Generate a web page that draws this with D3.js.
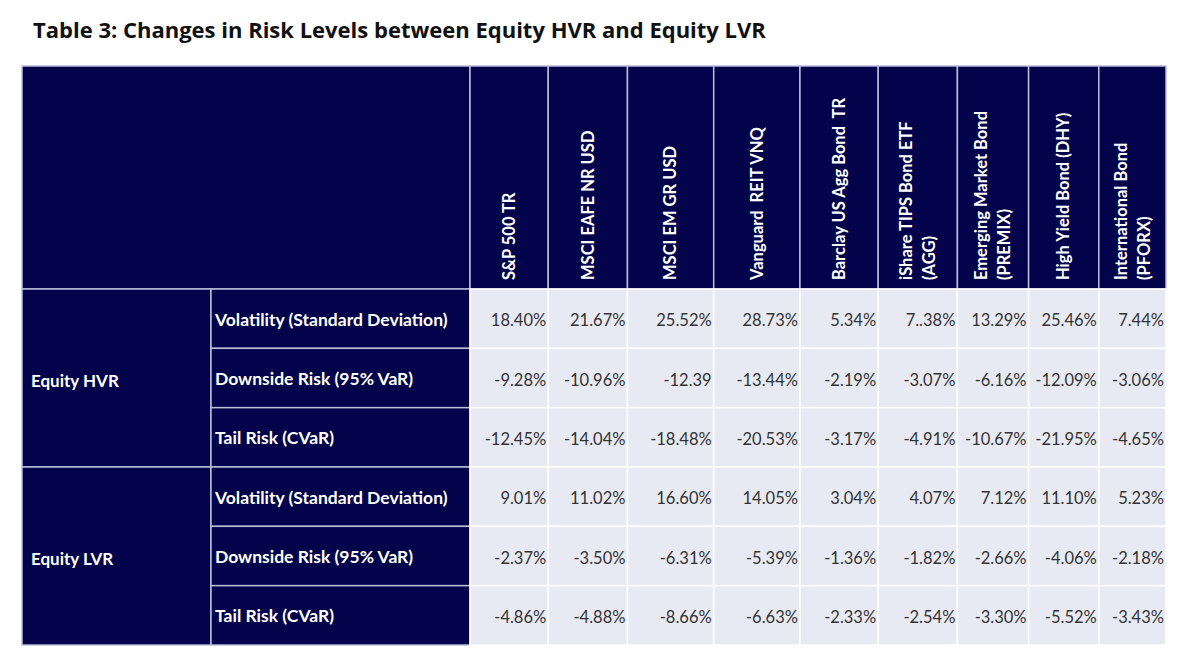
<!DOCTYPE html>
<html>
<head>
<meta charset="utf-8">
<script src="https://cdn.jsdelivr.net/npm/d3@7/dist/d3.min.js"></script>
<style>
  html, body { margin: 0; padding: 0; background: #ffffff; }
  svg { display: block; }
</style>
</head>
<body>
<svg id="chart" width="1200" height="667"></svg>
<script>
// ---------- DATA ----------
const title = "Table 3: Changes in Risk Levels between Equity HVR and Equity LVR";
const assets = [
  ["S&P 500 TR"],
  ["MSCI EAFE NR USD"],
  ["MSCI EM GR USD"],
  ["Vanguard  REIT VNQ"],
  ["Barclay US Agg Bond  TR"],
  ["iShare TIPS Bond ETF", "(AGG)"],
  ["Emerging Market Bond", "(PREMIX)"],
  ["High Yield Bond (DHY)"],
  ["International Bond", "(PFORX)"]
];
const groups = ["Equity HVR", "Equity LVR"];
const metrics = ["Volatility (Standard Deviation)", "Downside Risk (95% VaR)", "Tail Risk (CVaR)"];
const hvrVolatility = ["18.40%", "21.67%", "25.52%", "28.73%", "5.34%", "7..38%", "13.29%", "25.46%", "7.44%"];
const hvrDownside   = ["-9.28%", "-10.96%", "-12.39", "-13.44%", "-2.19%", "-3.07%", "-6.16%", "-12.09%", "-3.06%"];
const hvrTail       = ["-12.45%", "-14.04%", "-18.48%", "-20.53%", "-3.17%", "-4.91%", "-10.67%", "-21.95%", "-4.65%"];
const lvrVolatility = ["9.01%", "11.02%", "16.60%", "14.05%", "3.04%", "4.07%", "7.12%", "11.10%", "5.23%"];
const lvrDownside   = ["-2.37%", "-3.50%", "-6.31%", "-5.39%", "-1.36%", "-1.82%", "-2.66%", "-4.06%", "-2.18%"];
const lvrTail       = ["-4.86%", "-4.88%", "-8.66%", "-6.63%", "-2.33%", "-2.54%", "-3.30%", "-5.52%", "-3.43%"];

// ---------- LAYOUT ----------
const colWeights = [78, 79, 86, 86, 78, 79, 71, 70, 67]; // relative column widths
const tableLeft = 22, groupRight = 211, metricRight = 470, tableRight = 1166;
const headerTop = 66, bodyTop = 289, tableBottom = 645;
const NAVY = "#02034a", HEADER_LINE = "#b9bdd8", CELL = "#e8eaf3", GRID = "#ffffff";
const FONT = "Lato, 'Open Sans', 'Noto Sans', sans-serif";

const svg = d3.select("#chart");
svg.append("rect").attr("width", 1200).attr("height", 667).attr("fill", "#fff");

// title
svg.append("text")
  .attr("x", 33).attr("y", 38)
  .attr("font-family", "'Open Sans', Lato, sans-serif").attr("font-weight", 700).attr("font-size", 22)
  .attr("fill", "#111").text(title);

// column scale (cumulative weights -> pixels)
const assetKeys = assets.map(a => a.join(" "));
const cum = [0, ...d3.cumsum(colWeights)];
const xw = d3.scaleLinear().domain([0, cum[cum.length - 1]]).range([metricRight, tableRight]);
const xLeft = d3.scaleOrdinal().domain(assetKeys).range(cum.slice(0, -1).map(xw));
const xRight = d3.scaleOrdinal().domain(assetKeys).range(cum.slice(1).map(xw));

// rows
const rows = [];
groups.forEach((g) => metrics.forEach((m) => rows.push({ g, m, key: g + "|" + m })));
const y = d3.scaleBand().domain(rows.map(r => r.key)).range([bodyTop, tableBottom]);
const rowValues = [hvrVolatility, hvrDownside, hvrTail, lvrVolatility, lvrDownside, lvrTail];

// header band
svg.append("rect").attr("x", tableLeft).attr("y", headerTop)
  .attr("width", metricRight - tableLeft).attr("height", bodyTop - headerTop)
  .attr("fill", NAVY).attr("stroke", HEADER_LINE).attr("stroke-width", 1.5);

const hdr = svg.append("g").selectAll("g").data(assets).join("g");
hdr.append("rect")
  .attr("x", (d, i) => xLeft(assetKeys[i]))
  .attr("y", headerTop)
  .attr("width", (d, i) => xRight(assetKeys[i]) - xLeft(assetKeys[i]))
  .attr("height", bodyTop - headerTop)
  .attr("fill", NAVY).attr("stroke", HEADER_LINE).attr("stroke-width", 1.5);

const lineGap = 23;
hdr.append("text")
  .attr("transform", (d, i) => {
    const cx = (xLeft(assetKeys[i]) + xRight(assetKeys[i])) / 2;
    return `translate(${cx},${bodyTop - 9}) rotate(-90)`;
  })
  .attr("font-family", FONT).attr("font-weight", 700).attr("font-size", 16.5)
  .attr("fill", "#ffffff").attr("text-anchor", "start")
  .each(function (d) {
    const t = d3.select(this);
    d.forEach((line, li) => {
      t.append("tspan")
        .attr("x", 0)
        .attr("y", (li - (d.length - 1) / 2) * lineGap)
        .attr("dy", "0.35em")
        .attr("xml:space", "preserve")
        .text(line);
    });
  });

// group cells
const groupG = svg.append("g").selectAll("g").data(groups).join("g");
groupG.append("rect")
  .attr("x", tableLeft)
  .attr("y", g => y(g + "|" + metrics[0]))
  .attr("width", groupRight - tableLeft)
  .attr("height", y.bandwidth() * metrics.length)
  .attr("fill", NAVY).attr("stroke", HEADER_LINE).attr("stroke-width", 1.5);
groupG.append("text")
  .attr("x", tableLeft + 9)
  .attr("y", g => y(g + "|" + metrics[0]) + y.bandwidth() * metrics.length / 2 + 3)
  .attr("dy", "0.35em")
  .attr("font-family", FONT).attr("font-weight", 700).attr("font-size", 17)
  .attr("fill", "#ffffff").text(g => g);

// metric cells
const metricG = svg.append("g").selectAll("g").data(rows).join("g");
metricG.append("rect")
  .attr("x", groupRight).attr("y", r => y(r.key))
  .attr("width", metricRight - groupRight).attr("height", y.bandwidth())
  .attr("fill", NAVY).attr("stroke", HEADER_LINE).attr("stroke-width", 1.5);
metricG.append("text")
  .attr("x", groupRight + 4).attr("y", r => y(r.key) + y.bandwidth() / 2 + 1)
  .attr("dy", "0.35em")
  .attr("font-family", FONT).attr("font-weight", 700).attr("font-size", 17.5)
  .attr("fill", "#ffffff").attr("xml:space", "preserve").text(r => r.m);

// data cells
const cells = [];
rows.forEach((r, ri) => assetKeys.forEach((a, ci) => cells.push({ r: r.key, a, v: rowValues[ri][ci] })));
const cellG = svg.append("g").selectAll("g").data(cells).join("g");
cellG.append("rect")
  .attr("x", d => xLeft(d.a)).attr("y", d => y(d.r))
  .attr("width", d => xRight(d.a) - xLeft(d.a)).attr("height", y.bandwidth())
  .attr("fill", CELL).attr("stroke", GRID).attr("stroke-width", 1.5);
cellG.append("text")
  .attr("x", d => xRight(d.a) - 2).attr("y", d => y(d.r) + y.bandwidth() / 2 + 2)
  .attr("dy", "0.35em").attr("text-anchor", "end")
  .attr("font-family", FONT).attr("font-size", 16.5)
  .attr("fill", "#333333").text(d => d.v);
</script>
</body>
</html>
